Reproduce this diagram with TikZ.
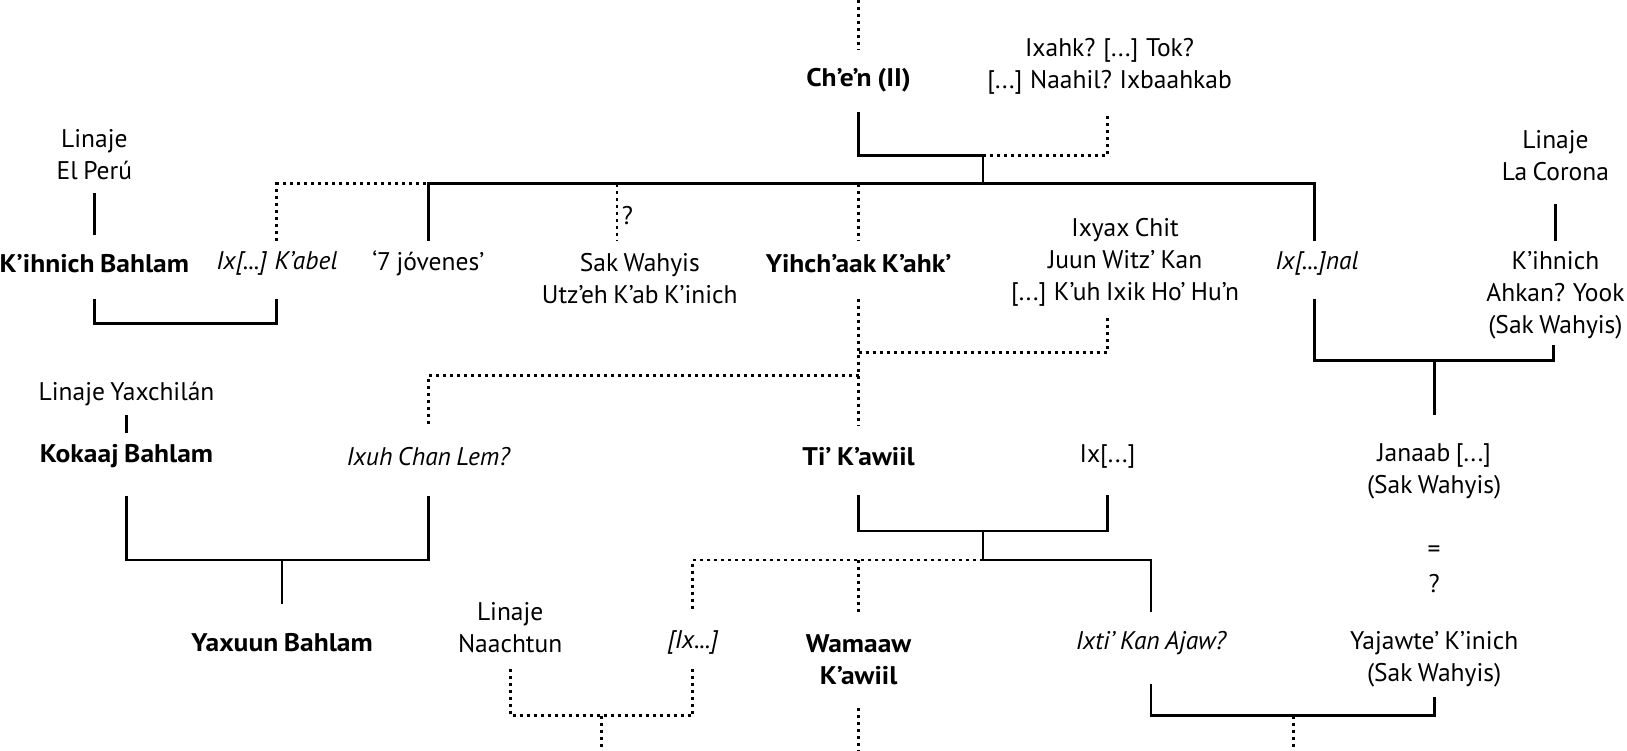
\documentclass[tikz,border=0pt]{standalone}
\usepackage{fontspec}
\setmainfont{PT Sans}[WordSpace=0.8,BoldFeatures={FakeStretch=1.08}]
\begin{document}
\begin{tikzpicture}[x=1.037pt,y=-1.037pt,
  lbl/.style={font=\fontsize{25.5}{32}\selectfont, align=center, inner sep=0pt},
  bld/.style={font=\fontsize{25.5}{32}\selectfont\bfseries, align=center, inner sep=0pt},
  itl/.style={font=\fontsize{25.5}{32}\selectfont\itshape, align=center, inner sep=0pt},
  solln/.style={line width=2.8pt, line join=miter},
  dotln/.style={line width=2.8pt, dash pattern=on 3pt off 4pt}]
\useasboundingbox (0,0) rectangle (1569,724);
% ---- nodes
\node[bld] (chen) at (828,77) {Ch’e’n (II)};
\node[lbl] (ixahk) at (1070,64) {Ixahk? {[...]} Tok?\\{}{[...]} Naahil? Ixbaahkab};
\node[lbl] (peru) at (91,149) {Linaje\\El Perú};
\node[lbl] (corona) at (1500,150) {Linaje\\La Corona};
\node[bld] (kbahlam) at (91,254) {K’ihnich Bahlam};
\node[itl] (kabel) at (267,254) {Ix{[...]} K’abel};
\node[lbl] (jov) at (413,254) {‘7 jóvenes’};
\node[lbl] (q1) at (605,208) {?};
\node[lbl] (sak) at (617,269) {Sak Wahyis\\Utz’eh K’ab K’inich};
\node[bld] (yihch) at (828,254) {Yihch’aak K’ahk’};
\node[lbl] (ixyax) at (1085,253) {Ixyax Chit\\Juun Witz’ Kan\\{}{[...]} K’uh Ixik Ho’ Hu’n};
\node[itl] (nal) at (1270,254) {Ix{[...]}nal};
\node[lbl] (ahkan) at (1500,285) {K’ihnich\\Ahkan? Yook\\(Sak Wahyis)};
\node[lbl] (yaxch) at (122,380) {Linaje Yaxchilán};
\node[bld] (kokaaj) at (122,440) {Kokaaj Bahlam};
\node[itl] (ixuh) at (413,440) {Ixuh Chan Lem?};
\node[bld] (ti) at (828,440) {Ti’ K’awiil};
\node[lbl] (ixb) at (1068,440) {Ix{[...]}};
\node[lbl] (janaab) at (1383,455) {Janaab {[...]}\\(Sak Wahyis)};
\node[lbl] (eq) at (1383,532) {=};
\node[lbl] (q2) at (1383,563) {?};
\node[bld] (yaxuun) at (272,620) {Yaxuun Bahlam};
\node[lbl] (naach) at (492,605) {Linaje\\Naachtun};
\node[itl] (ixd) at (668,620) {{[Ix...]}};
\node[bld] (wamaaw) at (828,636) {Wamaaw\\K’awiil};
\node[itl] (ixti) at (1110,620) {Ixti’ Kan Ajaw?};
\node[lbl] (yajaw) at (1383,636) {Yajawte’ K’inich\\(Sak Wahyis)};
% ---- junction coordinates
\coordinate (top) at (828,0);
\coordinate (j1) at (948,150);
\coordinate (j2) at (948,177);
\coordinate (j3) at (828,340);
\coordinate (j4) at (828,362);
\coordinate (j5) at (1383,348);
\coordinate (j6) at (272,540);
\coordinate (j7) at (948,512);
\coordinate (j8) at (948,540);
\coordinate (j9) at (580,690);
\coordinate (j10) at (1247,690);
\coordinate (e1) at (580,724);
\coordinate (e2) at (828,724);
\coordinate (e3) at (1247,724);
% ---- connectors
\draw[dotln] (top) -- (828,48);
\draw[solln] (828,108) |- (j1);
\draw[dotln] (j1) -| (1068,108);
\draw[solln] (j1) -- (j2);
\draw[dotln] (267,232) |- (413,177);
\draw[solln] (413,232) |- (j2) -| (1268,232);
\draw[dotln] (595,177) -- (595,232);
\draw[dotln] (828,177) -- (828,232);
\draw[solln] (91,186) -- (91,227);
\draw[solln] (1500,197) -- (1500,232);
\draw[solln] (91,288) |- (267,312) -- (267,288);
\draw[dotln] (828,288) -- (828,410);
\draw[dotln] (j3) -| (1068,305);
\draw[dotln] (j4) -| (413,410);
\draw[solln] (1268,288) |- (1498,348) -- (1498,333);
\draw[solln] (j5) -- (1383,400);
\draw[solln] (122,400) -- (122,418);
\draw[solln] (122,478) |- (413,540) -- (413,478);
\draw[solln] (j6) -- (272,582);
\draw[solln] (828,477) |- (1068,512) -- (1068,477);
\draw[solln] (j7) -- (j8) -| (1110,590);
\draw[dotln] (j8) -| (668,590);
\draw[dotln] (828,540) -- (828,590);
\draw[dotln] (492,645) |- (668,690) -- (668,645);
\draw[dotln] (j9) -- (e1);
\draw[dotln] (828,683) -- (e2);
\draw[solln] (1110,660) |- (1383,690) -- (1383,672);
\draw[dotln] (j10) -- (e3);
\end{tikzpicture}
\end{document}
